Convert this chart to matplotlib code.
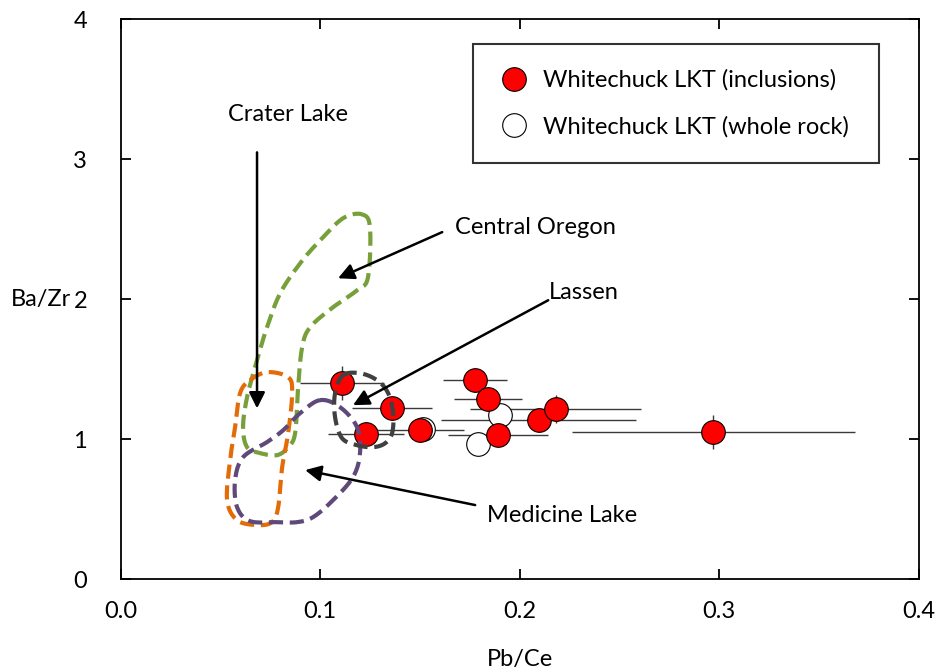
import matplotlib.pyplot as plt
import numpy as np

plt.rcParams['font.family'] = ['Lato', 'DejaVu Sans']

# Whitechuck LKT inclusions (Pb/Ce, Ba/Zr) with error bars
incl_x = [0.111, 0.136, 0.123, 0.150, 0.1775, 0.184, 0.189, 0.2095, 0.218, 0.297]
incl_y = [1.40, 1.22, 1.04, 1.065, 1.42, 1.29, 1.03, 1.135, 1.215, 1.05]
incl_xerr = [0.021, 0.020, 0.019, 0.022, 0.016, 0.017, 0.025, 0.049, 0.043, 0.071]
incl_yerr = [0.12, 0.08, 0.08, 0.08, 0.08, 0.08, 0.08, 0.08, 0.10, 0.12]

# Whitechuck LKT whole rock
wr_x = [0.1515, 0.190, 0.179]
wr_y = [1.07, 1.17, 0.965]

# outlined fields
oregon_x = [0.121, 0.125, 0.124, 0.1185, 0.1065, 0.095, 0.091, 0.089, 0.0875, 0.084, 0.0785,
            0.070, 0.0634, 0.0614, 0.0634, 0.0684, 0.0734, 0.080, 0.090, 0.100, 0.1115]
oregon_y = [2.607, 2.514, 2.157, 2.064, 1.943, 1.80, 1.657, 1.371, 1.043, 0.943, 0.886,
            0.90, 0.943, 1.086, 1.30, 1.564, 1.80, 2.043, 2.257, 2.421, 2.579]
crater_x = [0.0649, 0.0734, 0.084, 0.086, 0.084, 0.081, 0.079, 0.0759, 0.0684, 0.0584,
            0.0534, 0.0549, 0.0574, 0.0599]
crater_y = [1.421, 1.479, 1.443, 1.329, 1.043, 0.80, 0.514, 0.407, 0.386, 0.421,
            0.564, 0.85, 1.086, 1.329]
medicine_x = [0.100, 0.110, 0.1185, 0.120, 0.1165, 0.1065, 0.0965, 0.0885, 0.0784, 0.0649,
              0.0584, 0.0574, 0.0614, 0.0734, 0.0815, 0.090]
medicine_y = [1.279, 1.229, 1.086, 0.90, 0.729, 0.564, 0.443, 0.407, 0.407, 0.414,
              0.514, 0.707, 0.871, 0.979, 1.064, 1.186]
lassen_x = [0.1115, 0.1201, 0.1286, 0.1341, 0.1366, 0.1361, 0.1326, 0.1266, 0.1185, 0.111,
            0.1075, 0.1075]
lassen_y = [1.457, 1.471, 1.421, 1.329, 1.186, 1.043, 0.971, 0.943, 0.957, 1.007,
            1.157, 1.329]


def closed_curve(xs, ys, n=12):
    # smooth closed outline through the given vertices (Catmull-Rom)
    p = np.column_stack([xs, ys])
    m = len(p)
    t = np.linspace(0, 1, n, endpoint=False)[:, None]
    segs = []
    for i in range(m):
        p0, p1, p2, p3 = p[i - 1], p[i], p[(i + 1) % m], p[(i + 2) % m]
        segs.append(0.5 * (2 * p1 + (-p0 + p2) * t + (2 * p0 - 5 * p1 + 4 * p2 - p3) * t ** 2
                           + (-p0 + 3 * p1 - 3 * p2 + p3) * t ** 3))
    out = np.vstack(segs + [segs[0][:1]])
    return out[:, 0], out[:, 1]


fig = plt.figure(figsize=(9.38, 6.71), dpi=100)
ax = fig.add_axes([0.1285, 0.137, 0.851, 0.834])

ax.errorbar(incl_x, incl_y, xerr=incl_xerr, yerr=incl_yerr, fmt='none',
            ecolor='#3a3a3a', elinewidth=1.0, capsize=0, zorder=2)
wr, = ax.plot(wr_x, wr_y, 'o', ms=17, mfc='white', mec='black', mew=0.8, zorder=3,
              label='Whitechuck LKT (whole rock)')
inc, = ax.plot(incl_x, incl_y, 'o', ms=17, mfc='red', mec='black', mew=0.8, zorder=4,
               label='Whitechuck LKT (inclusions)')

dash = (0, (3.4, 1.6))
for fx, fy, col in [(oregon_x, oregon_y, '#77a03a'), (crater_x, crater_y, '#e36c09'),
                    (medicine_x, medicine_y, '#5f497a'), (lassen_x, lassen_y, '#404040')]:
    cx, cy = closed_curve(fx, fy)
    ax.plot(cx, cy, color=col, lw=3.0, ls=dash, zorder=5)

arrow = dict(arrowstyle='-|>', color='black', lw=1.8, mutation_scale=24, shrinkA=0, shrinkB=0)
ax.annotate('', xy=(0.0684, 1.22), xytext=(0.0684, 3.05), arrowprops=arrow, zorder=6)
ax.annotate('', xy=(0.109, 2.15), xytext=(0.1612, 2.48), arrowprops=arrow, zorder=6)
ax.annotate('', xy=(0.1165, 1.243), xytext=(0.2143, 1.993), arrowprops=arrow, zorder=6)
ax.annotate('', xy=(0.0925, 0.779), xytext=(0.1777, 0.529), arrowprops=arrow, zorder=6)

fs = 17
ax.text(0.084, 3.32, 'Crater Lake', fontsize=fs, ha='center', va='center')
ax.text(0.2078, 2.514, 'Central Oregon', fontsize=fs, ha='center', va='center')
ax.text(0.2323, 2.05, 'Lassen', fontsize=fs, ha='center', va='center')
ax.text(0.2213, 0.457, 'Medicine Lake', fontsize=fs, ha='center', va='center')

ax.set_xlim(0, 0.4)
ax.set_ylim(0, 4)
ax.set_xticks([0.0, 0.1, 0.2, 0.3, 0.4])
ax.set_xticklabels(['0.0', '0.1', '0.2', '0.3', '0.4'])
ax.set_yticks([0, 1, 2, 3, 4])
ax.tick_params(direction='in', top=True, right=True, length=7, width=1.3,
               labelsize=fs)
ax.tick_params(axis='x', pad=16)
ax.tick_params(axis='y', pad=24)
for s in ax.spines.values():
    s.set_linewidth(1.3)

ax.set_xlabel('Pb/Ce', fontsize=fs, labelpad=19)
ax.set_ylabel('Ba/Zr', fontsize=fs, rotation=0, ha='right', va='center')
ax.yaxis.set_label_coords(-0.062, 0.5)

leg = ax.legend(handles=[inc, wr], loc='upper left',
                bbox_to_anchor=(0.4417, 0.748, 0.509, 0.209), mode='expand',
                fontsize=fs, frameon=True, fancybox=False, edgecolor='black',
                borderpad=1.1, handlelength=1.3, handletextpad=0.55, labelspacing=1.05,
                borderaxespad=0)
leg.get_frame().set_linewidth(1.5)

fig.savefig('out.png', dpi=100)
